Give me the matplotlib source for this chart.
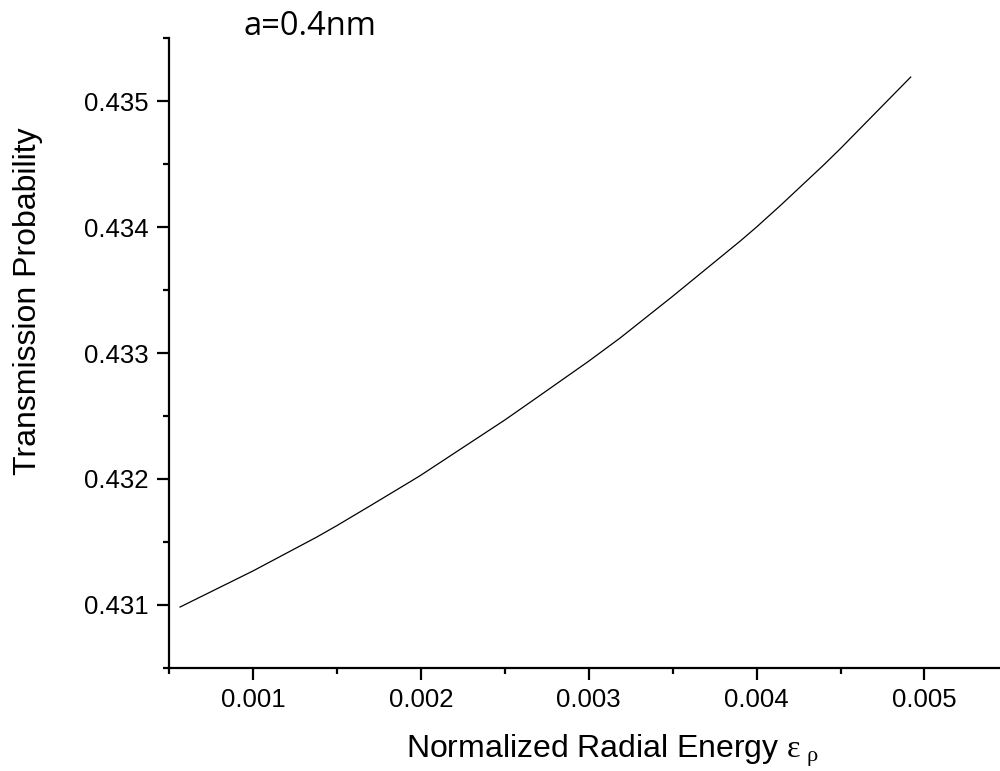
import matplotlib
matplotlib.use("Agg")
import matplotlib.pyplot as plt
from matplotlib.ticker import MultipleLocator, FormatStrFormatter

# radial energy vs transmission probability, a = 0.4 nm
energy = [0.000566, 0.0010, 0.00138, 0.0015, 0.001698, 0.001956, 0.0020,
          0.002275, 0.0025, 0.002672, 0.0030, 0.003188, 0.0035, 0.003904,
          0.0040, 0.004143, 0.004401, 0.0045, 0.004918]
trans = [0.430984, 0.431270, 0.431539, 0.431630, 0.431787, 0.431994, 0.432030,
         0.432271, 0.432468, 0.432628, 0.432935, 0.433120, 0.433450, 0.433890,
         0.434000, 0.434172, 0.434494, 0.434623, 0.435190]

plt.rcParams['font.family'] = ['Liberation Sans', 'DejaVu Sans']
plt.rcParams['mathtext.fontset'] = 'custom'
plt.rcParams['mathtext.rm'] = 'Liberation Serif'
plt.rcParams['mathtext.it'] = 'Liberation Serif'

fig = plt.figure(figsize=(10, 7.71), dpi=100)
ax = fig.add_axes([0.169, 0.1336, 0.831, 0.8171])

ax.plot(energy, trans, color='black', lw=0.9)

ax.set_xlim(0.0005, 0.00545)
ax.set_ylim(0.4305, 0.4355)

ax.spines['top'].set_visible(False)
ax.spines['right'].set_visible(False)
for s in ['left', 'bottom']:
    ax.spines[s].set_linewidth(1.6)

ax.xaxis.set_major_locator(MultipleLocator(0.001))
ax.xaxis.set_minor_locator(MultipleLocator(0.0005))
ax.yaxis.set_major_locator(MultipleLocator(0.001))
ax.yaxis.set_minor_locator(MultipleLocator(0.0005))
ax.xaxis.set_major_formatter(FormatStrFormatter('%.3f'))
ax.yaxis.set_major_formatter(FormatStrFormatter('%.3f'))

ax.tick_params(which='major', direction='out', length=8.5, width=1.6, labelsize=18.5, pad=6)
ax.tick_params(which='minor', direction='out', length=4.5, width=1.6)

ax.set_xlabel(r'Normalized Radial Energy $\mathrm{\varepsilon}_{\ \rho}$', fontsize=23)
ax.xaxis.set_label_coords(0.533, -0.103)
ax.set_ylabel('Transmission Probability', fontsize=23)
ax.yaxis.set_label_coords(-0.152, 0.582)

fig.text(0.31, 0.9546, 'a=0.4nm', fontsize=23.5, family='Open Sans',
         ha='center', va='baseline')

fig.savefig('out.png', dpi=100)
